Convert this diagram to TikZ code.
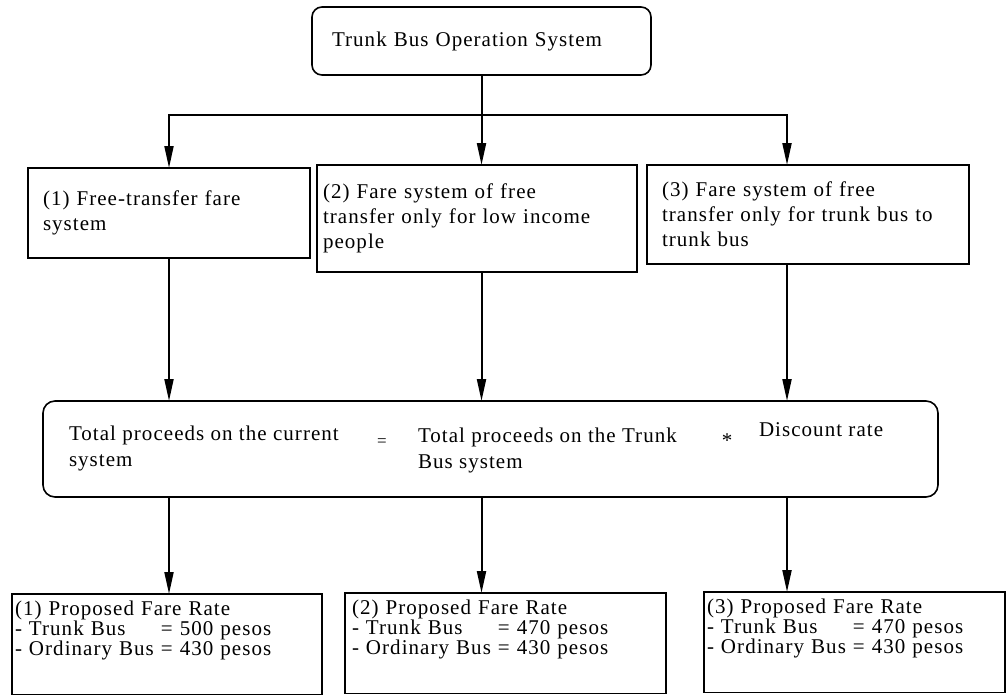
\documentclass[tikz,border=0pt]{standalone}
\usepackage{fontspec}
\setmainfont{Liberation Serif}[LetterSpace=5]
\usetikzlibrary{calc,arrows.meta}

\newlength\farelen
\newcommand\fareline[1]{\settowidth\farelen{- Ordinary Bus }\makebox[\farelen][l]{#1}}

\begin{document}
\begin{tikzpicture}[x=1pt,y=-1pt,
    box/.style={draw,line width=1.6pt,align=left,outer sep=0pt,font=\fontsize{21}{25}\selectfont},
    txt/.style={inner sep=0pt,align=left,font=\fontsize{21}{26}\selectfont},
    farebox/.style={draw,line width=1.6pt,anchor=north west,align=left,outer sep=0pt,
      inner ysep=7pt,text depth=72pt,font=\fontsize{21}{20}\selectfont},
    >={Triangle[length=22pt,width=9pt]}, every path/.style={line width=2pt}]
		\useasboundingbox (0,0) rectangle (1008,697);
		\node[box,rounded corners=10pt,text width=299pt,inner xsep=20pt,minimum height=68pt] (top) at (481.5,41) {Trunk Bus Operation System};
		\node[box,text width=252pt,inner xsep=15pt,minimum height=90pt] (sys1) at (169,213) {(1) Free-transfer fare\\system};
		\node[box,text width=308pt,inner xsep=6pt,minimum height=107pt] (sys2) at (477,218.5) {(2) Fare system of free\\transfer only for low income\\people};
		\node[box,text width=292pt,inner xsep=15pt,minimum height=99pt] (sys3) at (808,214.5) {(3) Fare system of free\\transfer only for trunk bus to\\trunk bus};
		\node[box,rounded corners=12pt,minimum width=895pt,minimum height=96pt] (proceeds) at (490.5,449) {};
		\node[txt,anchor=west] (current) at (68,448) {Total proceeds on the current\\system};
		\node[inner sep=0pt,font=\fontsize{17}{17}\selectfont] (equals) at (382,443) {=};
		\node[txt,anchor=west] (trunk) at (417,450) {Total proceeds on the Trunk\\Bus system};
		\node[inner sep=0pt,font=\fontsize{21}{21}\selectfont] (star) at (727,441) {*};
		\node[txt,anchor=west] (discount) at (758,430) {Discount rate};
		\node[farebox,text width=304pt,inner xsep=3pt] (fare1) at (12,594) {(1) Proposed Fare Rate\\\fareline{- Trunk Bus}= 500 pesos\\- Ordinary Bus = 430 pesos};
		\node[farebox,text width=307pt,inner xsep=7pt] (fare2) at (345,593) {(2) Proposed Fare Rate\\\fareline{- Trunk Bus}= 470 pesos\\- Ordinary Bus = 430 pesos};
		\node[farebox,text width=295pt,inner xsep=3pt] (fare3) at (704,592) {(3) Proposed Fare Rate\\\fareline{- Trunk Bus}= 470 pesos\\- Ordinary Bus = 430 pesos};
		\coordinate (split) at ($(top.south)+(0,40)$);
		\coordinate (c3) at (787,115);
		\draw [->] (top.south) -- (top.south |- sys2.north);
		\draw [->] (split) -| (sys1.north);
		\draw [->] (split) -- (c3) -- (c3 |- sys3.north);
		\draw [->] (sys1.south) -- (sys1.south |- proceeds.north);
		\draw [->] (top.south |- sys2.south) -- (top.south |- proceeds.north);
		\draw [->] (c3 |- sys3.south) -- (c3 |- proceeds.north);
		\draw [->] (sys1.south |- proceeds.south) -- (sys1.south |- fare1.north);
		\draw [->] (top.south |- proceeds.south) -- (top.south |- fare2.north);
		\draw [->] (c3 |- proceeds.south) -- (c3 |- fare3.north);
		\end{tikzpicture}
\end{document}
